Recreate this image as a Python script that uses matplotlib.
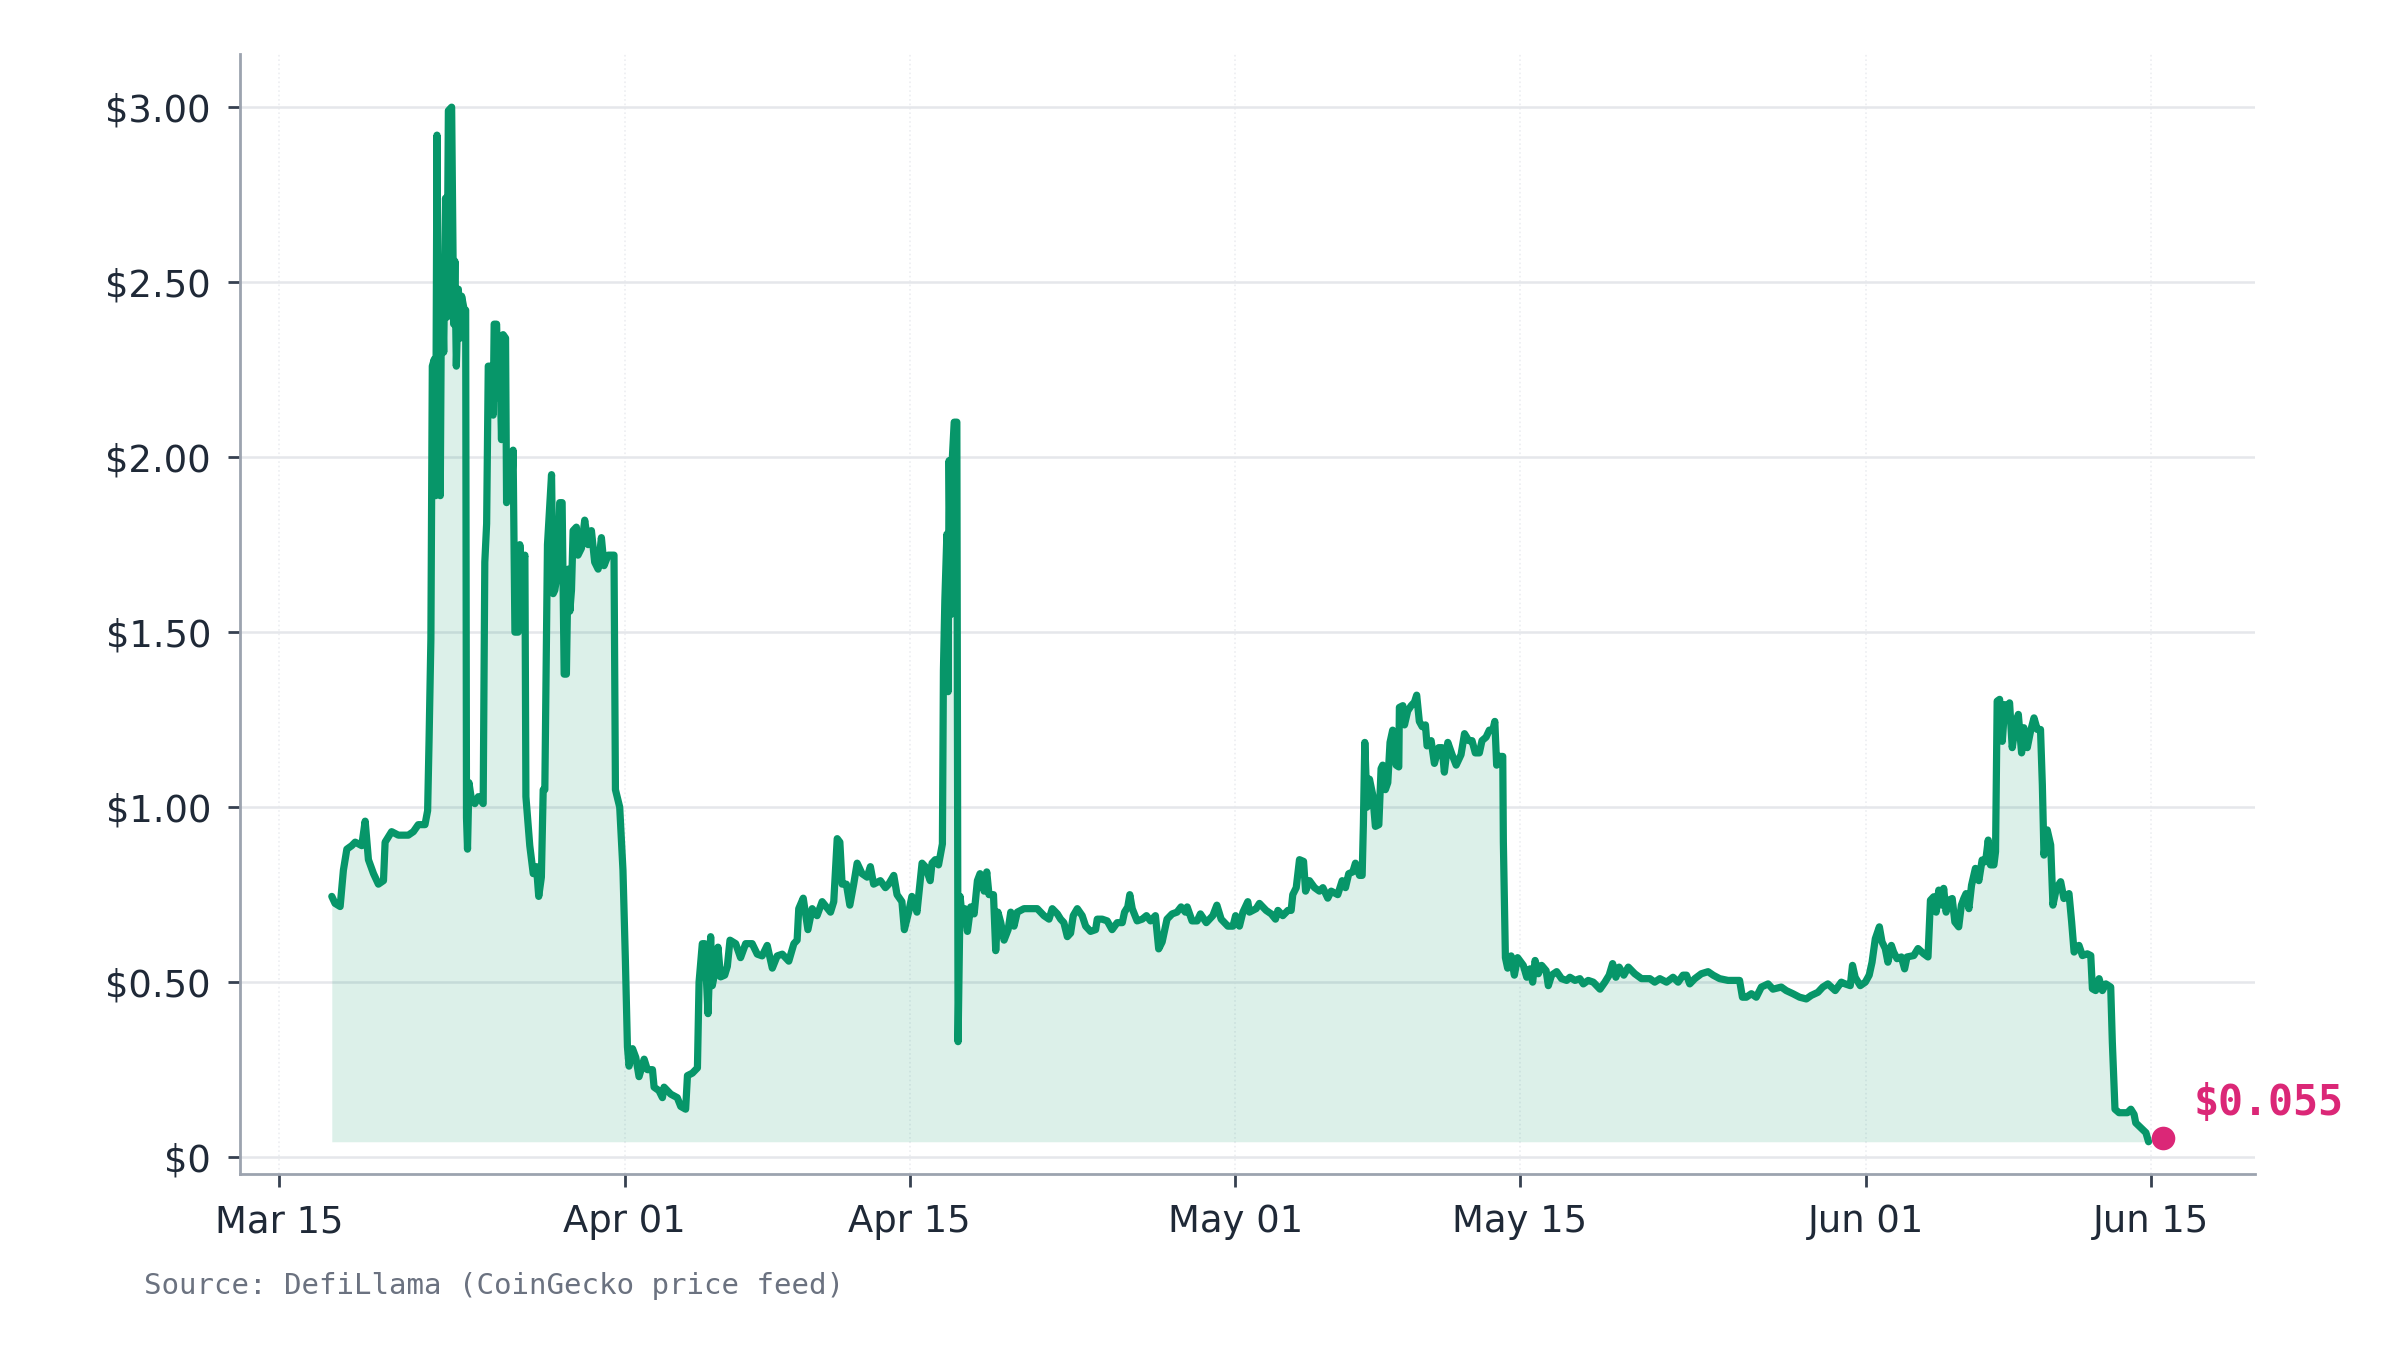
import numpy as np
import matplotlib
matplotlib.use("Agg")
import matplotlib.pyplot as plt
import matplotlib.dates as mdates
from matplotlib.ticker import FuncFormatter, FixedLocator
from datetime import datetime

# ---------------- data (days since Mar 15, price in USD) ----------------
START = datetime(2025, 3, 15)

mar_days = [2.60, 2.76, 3.01, 3.17, 3.34, 3.58, 3.75, 4.07, 4.24, 4.40,
            4.65, 4.89, 5.14, 5.22, 5.54, 5.87, 6.36, 6.61, 6.85, 7.18,
            7.31, 7.38, 7.47, 7.54, 7.64, 7.70, 7.77, 7.83, 7.93, 8.00,
            8.10, 8.19, 8.26, 8.33, 8.49, 8.59, 8.65, 8.72, 8.82, 8.91,
            8.98, 9.11, 9.18, 9.22, 9.27, 9.34, 9.47, 9.63, 9.80, 10.04,
            10.12, 10.21, 10.29, 10.42, 10.53, 10.58, 10.70, 10.78, 10.86, 10.94,
            11.02, 11.14, 11.19, 11.27, 11.43, 11.51, 11.60, 11.76, 11.84, 11.92,
            12.09, 12.14, 12.33, 12.50, 12.66, 12.77, 12.90, 12.99, 13.07, 13.20,
            13.40, 13.48, 13.56, 13.72, 13.80, 13.92, 14.02, 14.13, 14.21, 14.30,
            14.38, 14.46, 14.62, 14.70, 14.87, 15.03, 15.20, 15.36, 15.52, 15.69,
            15.85, 15.98, 16.18, 16.34, 16.47, 16.54, 16.75, 16.91, 17.03]
mar_prices = [0.745, 0.725, 0.716, 0.82, 0.88, 0.89, 0.90, 0.89, 0.96, 0.85,
              0.81, 0.78, 0.79, 0.90, 0.93, 0.92, 0.92, 0.93, 0.95, 0.95,
              0.99, 1.19, 1.48, 2.26, 2.28, 1.89, 2.92, 2.28, 1.89, 2.56,
              2.30, 2.74, 2.40, 2.99, 3.00, 2.38, 2.56, 2.26, 2.48, 2.34,
              2.46, 2.42, 2.42, 0.97, 0.88, 1.07, 1.02, 1.01, 1.03, 1.01,
              1.70, 1.81, 2.26, 2.26, 2.12, 2.38, 2.38, 2.17, 2.28, 2.05,
              2.35, 2.34, 1.87, 2.01, 1.89, 2.02, 1.50, 1.50, 1.75, 1.68,
              1.72, 1.03, 0.89, 0.81, 0.83, 0.745, 0.80, 1.05, 1.05, 1.75,
              1.95, 1.61, 1.62, 1.68, 1.87, 1.87, 1.38, 1.38, 1.68, 1.56,
              1.62, 1.79, 1.80, 1.72, 1.74, 1.82, 1.75, 1.79, 1.70, 1.68,
              1.77, 1.69, 1.72, 1.72, 1.72, 1.05, 1.00, 0.82, 0.56]

apr_a_days = [17.13, 17.21, 17.38, 17.54, 17.70, 17.95, 18.11, 18.36, 18.44,
              18.68, 18.85, 18.93, 19.26, 19.58, 19.75, 19.99, 20.08, 20.32, 20.57,
              20.65, 20.81, 20.93, 21.09, 21.22, 21.30, 21.47, 21.58, 21.71, 21.91,
              22.04, 22.17, 22.45, 22.69, 22.94, 23.26, 23.51, 23.75, 24.00, 24.25,
              24.49, 24.74, 25.06, 25.31, 25.47, 25.55, 25.77, 26.00, 26.21, 26.45,
              26.70, 27.11, 27.27, 27.44, 27.57, 27.68, 27.89, 28.06, 28.25, 28.42,
              28.66, 28.91, 29.07, 29.23, 29.56, 29.81, 29.97, 30.22, 30.38, 30.62,
              30.74, 30.95, 31.11, 31.36, 31.61, 31.77, 32.01, 32.10, 32.26, 32.42]
apr_a_prices = [0.315, 0.26, 0.31, 0.285, 0.23, 0.28, 0.25, 0.25, 0.20,
                0.19, 0.17, 0.20, 0.18, 0.17, 0.145, 0.137, 0.233, 0.24, 0.255,
                0.50, 0.61, 0.61, 0.41, 0.63, 0.49, 0.54, 0.60, 0.515, 0.52,
                0.545, 0.62, 0.61, 0.57, 0.61, 0.61, 0.58, 0.575, 0.605, 0.54,
                0.575, 0.58, 0.56, 0.61, 0.62, 0.71, 0.74, 0.65, 0.71, 0.69,
                0.73, 0.70, 0.73, 0.91, 0.90, 0.78, 0.78, 0.72, 0.78, 0.84,
                0.81, 0.80, 0.83, 0.78, 0.79, 0.77, 0.78, 0.805, 0.75, 0.73,
                0.65, 0.70, 0.745, 0.70, 0.84, 0.83, 0.79, 0.84, 0.85, 0.835]

apr_b_days = [32.61, 32.66, 32.73, 32.83, 32.89, 32.94, 33.02, 33.10, 33.19, 33.32,
              33.38, 33.48, 33.59, 33.71, 33.84, 34.00, 34.17, 34.33, 34.46, 34.66,
              34.79, 34.90, 35.12, 35.23, 35.34, 35.48, 35.64, 35.84, 35.97, 36.13,
              36.29, 36.62, 36.95, 37.27, 37.60, 37.85, 38.01, 38.26, 38.42, 38.58,
              38.75, 38.91, 39.04, 39.24, 39.48, 39.65, 39.89, 40.14, 40.22, 40.46,
              40.71, 40.95, 41.20, 41.45, 41.56, 41.72, 41.82, 41.94, 42.18, 42.43,
              42.64, 42.84, 43.08, 43.24, 43.41, 43.65, 43.90, 44.14, 44.34, 44.55,
              44.64, 44.88, 45.13, 45.29]
apr_b_prices = [0.895, 1.39, 1.59, 1.78, 1.33, 1.99, 1.55, 2.00, 2.10, 2.10,
                0.33, 0.745, 0.68, 0.71, 0.645, 0.715, 0.695, 0.79, 0.81, 0.76,
                0.815, 0.75, 0.75, 0.59, 0.70, 0.67, 0.62, 0.65, 0.70, 0.66,
                0.70, 0.71, 0.71, 0.71, 0.69, 0.68, 0.71, 0.695, 0.68, 0.67,
                0.63, 0.64, 0.69, 0.71, 0.69, 0.66, 0.645, 0.65, 0.68, 0.68,
                0.675, 0.65, 0.67, 0.67, 0.70, 0.715, 0.75, 0.71, 0.675, 0.68,
                0.69, 0.675, 0.69, 0.595, 0.615, 0.68, 0.695, 0.70, 0.715, 0.70,
                0.715, 0.675, 0.675, 0.695]

may_a_days = [45.58, 45.90, 46.10, 46.31, 46.64, 46.89, 47.02, 47.21, 47.38, 47.62,
              47.70, 48.03, 48.19, 48.52, 48.77, 48.98, 49.10, 49.34, 49.59, 49.75,
              49.83, 50.00, 50.16, 50.36, 50.46, 50.65, 50.90, 51.14, 51.31, 51.55,
              51.72, 52.04, 52.26, 52.42, 52.58, 52.78, 52.91, 53.11, 53.24, 53.30,
              53.37, 53.48, 53.60, 53.76, 53.89, 54.06, 54.17, 54.25, 54.38, 54.50,
              54.61, 54.74, 54.91, 55.04, 55.07, 55.24, 55.32, 55.48, 55.65, 55.81,
              55.92, 56.05, 56.19, 56.35, 56.43, 56.63, 56.79, 57.00, 57.17, 57.28,
              57.45, 57.66, 57.86, 58.10, 58.27, 58.48, 58.64, 58.80, 59.00, 59.13,
              59.33, 59.49, 59.66, 59.76, 59.85, 59.98, 60.15, 60.18, 60.28, 60.39,
              60.56, 60.72, 60.88]
may_a_prices = [0.67, 0.69, 0.72, 0.68, 0.66, 0.66, 0.69, 0.66, 0.70, 0.73,
                0.70, 0.71, 0.725, 0.705, 0.695, 0.68, 0.705, 0.69, 0.705, 0.705,
                0.75, 0.77, 0.85, 0.845, 0.76, 0.79, 0.77, 0.76, 0.77, 0.74,
                0.76, 0.75, 0.79, 0.77, 0.81, 0.815, 0.84, 0.805, 0.805, 0.95,
                1.185, 1.00, 1.08, 1.035, 0.945, 0.95, 1.11, 1.12, 1.05, 1.07,
                1.185, 1.22, 1.12, 1.115, 1.285, 1.29, 1.235, 1.275, 1.29, 1.30,
                1.32, 1.245, 1.23, 1.235, 1.175, 1.19, 1.125, 1.17, 1.17, 1.10,
                1.185, 1.15, 1.12, 1.15, 1.21, 1.19, 1.19, 1.155, 1.155, 1.19,
                1.20, 1.22, 1.22, 1.245, 1.12, 1.145, 1.145, 0.90, 0.57, 0.54,
                0.575, 0.52, 0.57]

may_b_days = [61.16, 61.33, 61.49, 61.62, 61.74, 61.90, 62.06, 62.28, 62.39, 62.55,
              62.80, 63.04, 63.29, 63.45, 63.70, 63.94, 64.11, 64.35, 64.60, 64.93,
              65.17, 65.38, 65.55, 65.71, 65.87, 66.10, 66.32, 66.64, 66.97, 67.38,
              67.62, 67.87, 68.20, 68.52, 68.77, 69.01, 69.18, 69.34, 69.59, 69.91,
              70.24, 70.49, 70.81, 71.22, 71.79, 71.93, 72.12, 72.37, 72.61, 72.86,
              73.19, 73.43, 73.84, 74.08, 74.41, 74.74, 75.07, 75.31, 75.64, 75.88,
              76.13]
may_b_prices = [0.548, 0.514, 0.538, 0.50, 0.562, 0.524, 0.548, 0.533, 0.49, 0.52,
                0.53, 0.51, 0.505, 0.514, 0.505, 0.51, 0.495, 0.505, 0.50, 0.48,
                0.50, 0.52, 0.553, 0.514, 0.543, 0.52, 0.543, 0.524, 0.51, 0.51,
                0.50, 0.51, 0.50, 0.514, 0.50, 0.52, 0.52, 0.495, 0.51, 0.524,
                0.53, 0.52, 0.51, 0.505, 0.505, 0.457, 0.457, 0.467, 0.457, 0.486,
                0.495, 0.48, 0.486, 0.476, 0.467, 0.457, 0.452, 0.462, 0.471, 0.486,
                0.495]

jun_days = [76.49, 76.79, 76.98, 77.23, 77.34, 77.47, 77.72, 77.97, 78.16, 78.30,
            78.46, 78.66, 78.79, 78.95, 79.08, 79.25, 79.36, 79.53, 79.74, 79.90,
            80.02, 80.35, 80.56, 80.84, 81.05, 81.17, 81.33, 81.45, 81.58, 81.74,
            81.82, 81.94, 82.07, 82.24, 82.37, 82.56, 82.69, 82.81, 82.92, 83.06,
            83.19, 83.38, 83.55, 83.71, 83.88, 84.01, 84.12, 84.29, 84.37, 84.45,
            84.57, 84.70, 84.83, 84.94, 85.06, 85.19, 85.35, 85.49, 85.65, 85.76,
            85.93, 86.09, 86.26, 86.42, 86.58, 86.67, 86.75, 86.91, 87.08, 87.19,
            87.36, 87.57, 87.73, 87.98, 88.11, 88.23, 88.47, 88.64, 88.88, 89.05,
            89.13, 89.29, 89.46, 89.62, 89.79, 90.03, 90.11, 90.24, 90.44, 90.85,
            91.02, 91.18, 91.26, 91.51, 91.76, 91.89]
jun_prices = [0.476, 0.50, 0.495, 0.49, 0.548, 0.514, 0.49, 0.50, 0.52, 0.557,
              0.624, 0.658, 0.615, 0.596, 0.557, 0.605, 0.586, 0.567, 0.572, 0.538,
              0.572, 0.576, 0.596, 0.581, 0.572, 0.734, 0.744, 0.70, 0.763, 0.72,
              0.768, 0.70, 0.734, 0.739, 0.672, 0.658, 0.72, 0.739, 0.753, 0.71,
              0.777, 0.825, 0.79, 0.849, 0.844, 0.906, 0.835, 0.835, 0.873, 1.303,
              1.308, 1.188, 1.293, 1.27, 1.298, 1.17, 1.236, 1.265, 1.155, 1.227,
              1.17, 1.217, 1.255, 1.222, 1.222, 1.064, 0.863, 0.935, 0.892, 0.72,
              0.768, 0.787, 0.739, 0.753, 0.672, 0.586, 0.605, 0.576, 0.581, 0.576,
              0.481, 0.476, 0.51, 0.476, 0.495, 0.486, 0.328, 0.137, 0.127, 0.127,
              0.137, 0.122, 0.098, 0.084, 0.07, 0.044]

last_day = 92.6
last_price = 0.055
last_label = "\\$0.055"

tick_days = [0, 17, 31, 47, 61, 78, 92]
y_ticks = [0, 0.5, 1.0, 1.5, 2.0, 2.5, 3.0]
source_text = "Source: DefiLlama (CoinGecko price feed)"

# ---------------- styling ----------------
GREEN = "#079669"
PINK = "#db2777"
TEXT = "#1f2937"
MUTED = "#6b7280"
SPINE = "#9ca3af"
GRID = "#e5e7eb"

days = np.concatenate([mar_days, apr_a_days, apr_b_days, may_a_days, may_b_days, jun_days])
prices = np.concatenate([mar_prices, apr_a_prices, apr_b_prices, may_a_prices, may_b_prices, jun_prices])
base = mdates.date2num(START)
x = base + days

fig = plt.figure(figsize=(12, 6.75), dpi=200)
fig.patch.set_facecolor("white")
ax = fig.add_axes([0.1001, 0.1304, 0.8393, 0.8299])

ax.fill_between(x, prices, prices.min(), color=GREEN, alpha=0.14, lw=0, zorder=2)
ax.plot(x, prices, color=GREEN, lw=2.6, solid_joinstyle="round",
        solid_capstyle="round", zorder=3)
ax.plot([base + last_day], [last_price], "o", color=PINK, ms=8.5, mec="none", zorder=5)
ax.annotate(last_label, xy=(base + last_day, last_price), xytext=(11, 12.5),
            textcoords="offset points", ha="left", va="center",
            family="DejaVu Sans Mono", weight="bold", fontsize=15, color=PINK)

ax.set_ylim(-0.048, 3.153)
ax.yaxis.set_major_locator(FixedLocator(y_ticks))
ax.yaxis.set_major_formatter(FuncFormatter(
    lambda v, p: "$0" if abs(v) < 1e-9 else "${:.2f}".format(v)))
ax.xaxis.set_major_locator(FixedLocator([base + d for d in tick_days]))
ax.xaxis.set_major_formatter(mdates.DateFormatter("%b %d"))

ax.set_axisbelow(True)
ax.yaxis.grid(True, color=GRID, lw=0.9)
ax.xaxis.grid(True, color=GRID, lw=0.6, ls=":", alpha=0.7)

for s in ["top", "right"]:
    ax.spines[s].set_visible(False)
for s in ["left", "bottom"]:
    ax.spines[s].set_color(SPINE)
    ax.spines[s].set_linewidth(1.0)

ax.tick_params(axis="both", which="major", labelsize=13.3, labelcolor=TEXT,
               color="#374151", length=4.5, width=1.0, pad=6)

fig.text(0.06, 0.0476, source_text, family="DejaVu Sans Mono", fontsize=10.5,
         color=MUTED, ha="left", va="center")

fig.savefig("out.png", dpi=200, facecolor="white")
